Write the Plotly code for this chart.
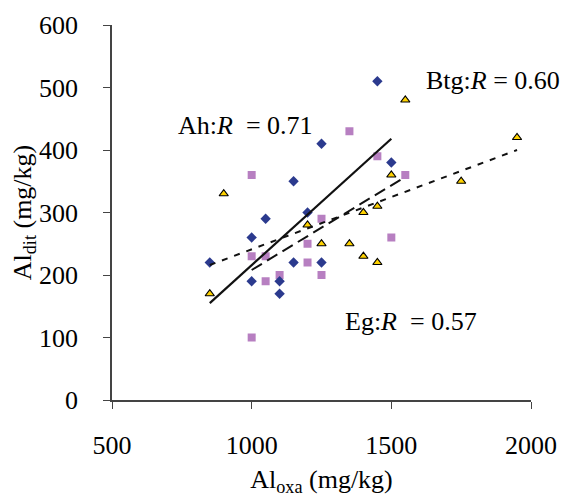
import plotly.graph_objects as go

# Ah horizon (blue diamonds)
ah_x = [850, 1000, 1000, 1050, 1100, 1100, 1150, 1150, 1200, 1250, 1250, 1450, 1500]
ah_y = [220, 260, 190, 290, 190, 170, 350, 220, 300, 410, 220, 510, 380]
# Eg horizon (pink squares)
eg_x = [1000, 1000, 1000, 1050, 1050, 1100, 1200, 1200, 1250, 1250, 1350, 1450, 1500, 1550]
eg_y = [360, 230, 100, 230, 190, 200, 250, 220, 290, 200, 430, 390, 260, 360]
# Btg horizon (yellow triangles)
btg_x = [850, 900, 1200, 1250, 1350, 1400, 1400, 1450, 1450, 1500, 1550, 1750, 1950]
btg_y = [170, 330, 280, 250, 250, 300, 230, 310, 220, 360, 480, 350, 420]

# trend lines
ah_fit_x = [850, 1500]
ah_fit_y = [155, 418]
eg_fit_x = [1000, 1550]
eg_fit_y = [208, 357]
btg_fit_x = [850, 1950]
btg_fit_y = [216, 400]

x_ticks = [500, 1000, 1500, 2000]
y_ticks = [0, 100, 200, 300, 400, 500, 600]

FONT = "Liberation Serif"
NB = "\u00a0"

fig = go.Figure()
fig.add_trace(go.Scatter(x=eg_x, y=eg_y, mode="markers",
                         marker=dict(symbol="square", size=8, color="#B77FC1",
                                     line=dict(width=0))))
fig.add_trace(go.Scatter(x=ah_x, y=ah_y, mode="markers",
                         marker=dict(symbol="diamond", size=8, color="#2B3A8E",
                                     line=dict(width=0))))
fig.add_trace(go.Scatter(x=btg_x, y=btg_y, mode="markers",
                         marker=dict(symbol="triangle-up", size=8, color="#FFD200",
                                     line=dict(width=1.2, color="black"))))
fig.add_trace(go.Scatter(x=ah_fit_x, y=ah_fit_y, mode="lines",
                         line=dict(color="#111111", width=2.2)))
fig.add_trace(go.Scatter(x=eg_fit_x, y=eg_fit_y, mode="lines",
                         line=dict(color="#111111", width=2, dash="12px,6px")))
fig.add_trace(go.Scatter(x=btg_fit_x, y=btg_fit_y, mode="lines",
                         line=dict(color="#111111", width=2, dash="6px,7px")))

ann_font = dict(family=FONT, size=26, color="black")
fig.add_annotation(x=729, y=440, text="Ah:<i>R</i>" + NB + NB + "= 0.71", showarrow=False,
                   xanchor="left", yanchor="middle", font=ann_font)
fig.add_annotation(x=1618, y=511, text="Btg:<i>R</i> = 0.60", showarrow=False,
                   xanchor="left", yanchor="middle", font=ann_font)
fig.add_annotation(x=1326, y=125, text="Eg:<i>R</i>" + NB + NB + "= 0.57", showarrow=False,
                   xanchor="left", yanchor="middle", font=ann_font)

axis_common = dict(showgrid=False, zeroline=False, showline=True, automargin=False,
                   linecolor="#444444", linewidth=1.5, ticks="outside",
                   ticklen=7, tickwidth=1.3, tickcolor="#444444",
                   tickfont=dict(family=FONT, size=26, color="black"))

fig.update_xaxes(range=[500, 2000], tickvals=x_ticks, ticklabelstandoff=14,
                 title=dict(text="Al<sub>oxa</sub> (mg/kg)", standoff=16,
                            font=dict(family=FONT, size=26, color="black")),
                 **axis_common)
fig.update_yaxes(range=[0, 600], tickvals=y_ticks, ticklabelstandoff=20,
                 title=dict(text="Al<sub>dit</sub> (mg/kg)", standoff=8,
                            font=dict(family=FONT, size=26, color="black")),
                 **axis_common)

# the page adds an 8px body margin, so the figure is 8px smaller and left/top margins shifted
fig.update_layout(width=565, height=489, showlegend=False,
                  plot_bgcolor="white", paper_bgcolor="white",
                  margin=dict(l=104, r=42, t=17, b=97),
                  font=dict(family=FONT))

fig.write_html("out.html", config={"displayModeBar": False})
